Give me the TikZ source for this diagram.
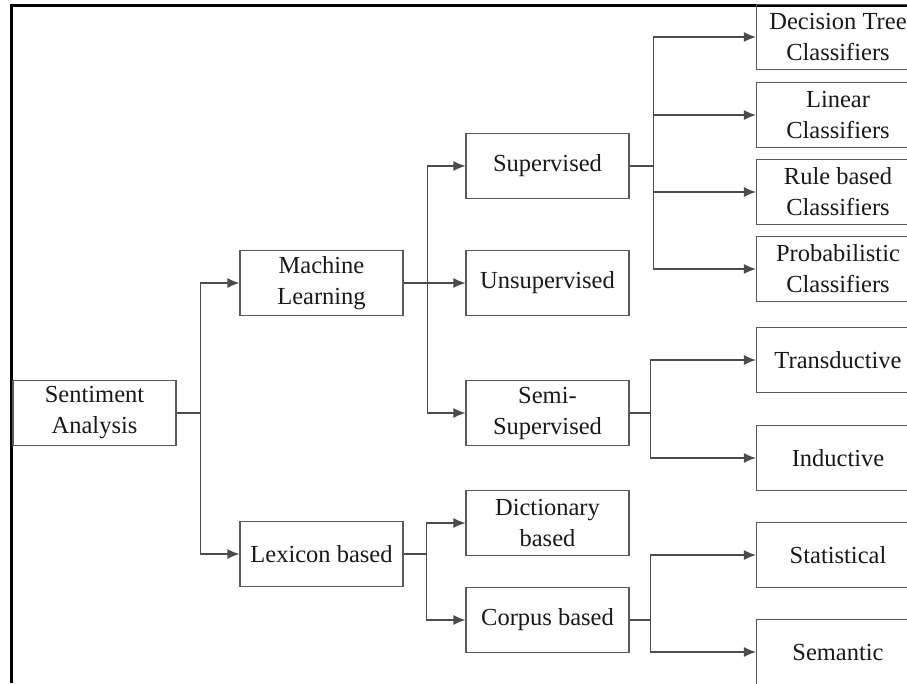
\documentclass[tikz,border=0pt]{standalone}
\usepackage{fontspec}
\setmainfont{Liberation Serif}
\usetikzlibrary{arrows.meta}

\begin{document}
\begin{tikzpicture}[x=1pt,y=-1pt,
        box/.style={draw=black!65,line width=1.2pt,minimum width=163pt,minimum height=65pt,
            align=center,text=black!90,font=\fontsize{24.5}{31}\selectfont},
        ln/.style={draw=black!70,line width=1.2pt},
        arr/.style={ln,-{Latex[length=12pt,width=10pt]}}]
                \clip (0,0) rectangle (907,683);
                \fill[white] (0,0) rectangle (907,683);
                \draw[line width=3pt] (11.5,683) -- (11.5,5.5) -- (907,5.5);

                \node[box] (sa) at (94.5,413) {Sentiment\\Analysis};

                \node[box] (ml) at (321.5,283) {Machine\\Learning};
                \node[box] (lex) at (321.5,554) {Lexicon based};

                \node[box] (sup) at (547.5,166) {Supervised};
                \node[box] (uns) at (547.5,283) {Unsupervised};
                \node[box] (semi) at (547.5,413) {Semi-\\Supervised};
                \node[box] (dict) at (547.5,523) {Dictionary\\based};
                \node[box] (corp) at (547.5,620) {Corpus based};

                \node[box] (dt) at (838,37) {Decision Tree\\Classifiers};
                \node[box] (lin) at (838,115) {Linear\\Classifiers};
                \node[box] (rule) at (838,192) {Rule based\\Classifiers};
                \node[box] (prob) at (838,269) {Probabilistic\\Classifiers};
                \node[box] (trans) at (838,360) {Transductive};
                \node[box] (ind) at (838,458) {Inductive};
                \node[box] (stat) at (838,555) {Statistical};
                \node[box] (sem) at (838,652) {Semantic};

                \coordinate (j1) at ([xshift=24pt]sa.east);
                \draw[ln] (sa.east) -- (j1);
                \draw[arr] (j1) |- (ml.west);
                \draw[arr] (j1) |- (lex.west);

                \coordinate (j2) at ([xshift=24pt]ml.east);
                \draw[ln] (ml.east) -- (j2);
                \draw[arr] (j2) |- (sup.west);
                \draw[arr] (j2) |- (uns.west);
                \draw[arr] (j2) |- (semi.west);

                \coordinate (j3) at ([xshift=23pt]lex.east);
                \draw[ln] (lex.east) -- (j3);
                \draw[arr] (j3) |- (dict.west);
                \draw[arr] (j3) |- (corp.west);

                \coordinate (j4) at ([xshift=24pt]sup.east);
                \draw[ln] (sup.east) -- (j4);
                \draw[arr] (j4) |- (dt.west);
                \draw[arr] (j4) |- (lin.west);
                \draw[arr] (j4) |- (rule.west);
                \draw[arr] (j4) |- (prob.west);

                \coordinate (j5) at ([xshift=21pt]semi.east);
                \draw[ln] (semi.east) -- (j5);
                \draw[arr] (j5) |- (trans.west);
                \draw[arr] (j5) |- (ind.west);

                \coordinate (j6) at ([xshift=21pt]corp.east);
                \draw[ln] (corp.east) -- (j6);
                \draw[arr] (j6) |- (stat.west);
                \draw[arr] (j6) |- (sem.west);
            \end{tikzpicture}
\end{document}
